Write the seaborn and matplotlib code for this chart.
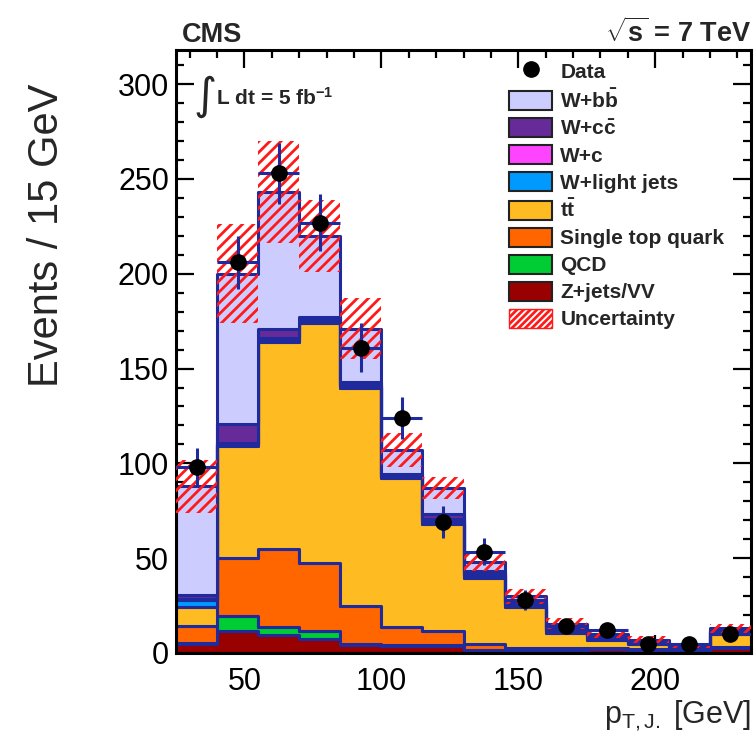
import numpy as np
import pandas as pd
import matplotlib
matplotlib.use("Agg")
import matplotlib.pyplot as plt
from matplotlib.patches import Patch
from matplotlib.lines import Line2D
from matplotlib.ticker import MultipleLocator
import seaborn as sns

# ---------------- data ----------------
bin_edges = [25, 40, 55, 70, 85, 100, 115, 130, 145, 160, 175, 190, 205, 220, 235]

z_jets_vv   = [4.6, 11.5, 9.5, 7.5, 4.0, 3.5, 3.5, 1.5, 0.8, 1.5, 2.0, 1.8, 1.5, 2.5]
qcd         = [0.5, 8.0, 4.0, 4.0, 1.0, 0.5, 0.5, 0.1, 0.1, 0.1, 0.1, 0.1, 0.0, 0.1]
single_top  = [8.9, 30.5, 41.5, 36.0, 20.0, 9.5, 7.5, 3.2, 1.9, 0.9, 0.6, 0.4, 0.3, 0.7]
ttbar       = [10.0, 59.0, 109.0, 126.5, 115.0, 79.0, 56.5, 34.7, 21.2, 8.0, 4.3, 2.2, 0.7, 6.7]
w_light     = [4.0, 1.0, 1.0, 1.0, 1.0, 0.5, 1.5, 1.5, 1.5, 1.0, 0.8, 0.7, 0.5, 1.0]
w_c         = [0.5, 1.0, 1.0, 0.5, 0.5, 0.5, 1.0, 0.5, 0.5, 0.5, 0.4, 0.3, 0.2, 0.5]
w_cc        = [2.0, 10.0, 5.0, 1.5, 1.5, 1.0, 3.0, 1.5, 1.5, 1.0, 0.8, 0.7, 0.4, 0.8]
w_bb        = [57.5, 79.0, 72.0, 43.0, 28.0, 12.5, 13.5, 5.0, 2.5, 2.5, 1.0, 0.8, 0.4, 0.7]

uncertainty = [14, 26, 27, 19, 16, 9, 6, 5, 4, 3, 2.2, 1.8, 1.3, 2.2]

data_values = [98, 206, 253, 227, 161, 124, 69, 53.5, 28, 14, 12, 4.6, 5, 10]
data_errors = [10, 14, 16, 15, 13, 11, 8.3, 7.3, 5.3, 3.7, 3.5, 2.2, 2.2, 3.2]

process_labels = ["W+b$\\mathbf{\\bar{b}}$", "W+c$\\mathbf{\\bar{c}}$", "W+c", "W+light jets",
                  "t$\\mathbf{\\bar{t}}$", "Single top quark", "QCD", "Z+jets/VV"]
process_values = [w_bb, w_cc, w_c, w_light, ttbar, single_top, qcd, z_jets_vv]
process_colors = ["#ccccff", "#662a99", "#ff44ff", "#0099ff",
                  "#ffbb22", "#ff6600", "#00cc33", "#990000"]

# ---------------- style ----------------
sns.set_style("ticks")
plt.rcParams["font.family"] = ["Liberation Sans", "DejaVu Sans"]
plt.rcParams["mathtext.fontset"] = "custom"
plt.rcParams["mathtext.rm"] = "Liberation Sans"
plt.rcParams["mathtext.bf"] = "Liberation Sans:bold"
plt.rcParams["mathtext.it"] = "Liberation Sans:italic"
plt.rcParams["hatch.linewidth"] = 2.0

navy = "#1f2a9c"

edges = np.array(bin_edges, dtype=float)
centers = 0.5 * (edges[:-1] + edges[1:])
width = np.diff(edges)

rows = []
for lab, vals in zip(process_labels, process_values):
    for c, v in zip(centers, vals):
        rows.append({"pt": float(c), "events": float(v), "process": lab})
df = pd.DataFrame(rows)

fig = plt.figure(figsize=(7.55, 7.41), dpi=100)
ax = fig.add_axes([176 / 755, 88 / 741, (751 - 176) / 755, (653 - 50) / 741])

sns.histplot(data=df, x="pt", weights="events", hue="process",
             hue_order=process_labels, palette=dict(zip(process_labels, process_colors)),
             bins=list(bin_edges), multiple="stack", element="step", fill=True, alpha=1,
             edgecolor=navy, linewidth=2.2, legend=False, ax=ax)

mc_total = np.sum(np.array(process_values, dtype=float), axis=0)
unc = np.array(uncertainty, dtype=float)
ax.bar(centers, 2 * unc, bottom=mc_total - unc, width=width, fill=False,
       hatch="///", edgecolor="#ff1a1a", linewidth=0, zorder=4)

ax.errorbar(centers, data_values, yerr=data_errors, xerr=width / 2, fmt="o",
            color="black", ecolor=navy, elinewidth=2.2, markersize=11,
            capsize=0, zorder=6)

# ---------------- axes ----------------
ax.set_xlim(25, 235)
ax.set_ylim(0, 318)
ax.xaxis.set_major_locator(MultipleLocator(50))
ax.xaxis.set_minor_locator(MultipleLocator(10))
ax.yaxis.set_major_locator(MultipleLocator(50))
ax.yaxis.set_minor_locator(MultipleLocator(10))
ax.tick_params(which="both", direction="in", top=True, right=True, width=1.6,
               labelsize=22, colors="black")
ax.tick_params(which="major", length=13)
ax.tick_params(which="minor", length=6)
ax.tick_params(axis="x", which="major", pad=10)
ax.tick_params(axis="y", which="major", pad=5)
for s in ax.spines.values():
    s.set_linewidth(2.2)
    s.set_color("black")

ax.set_xlabel("p$_{\\mathrm{T,J.}}$ [GeV]", fontsize=22, loc="right")
ax.xaxis.set_label_coords(1.0, -0.075)
ax.set_ylabel("Events / 15 GeV", fontsize=30, loc="top")
ax.yaxis.set_label_coords(-0.19, 0.945)

# ---------------- texts ----------------
fig.text(182 / 755, 1 - 42 / 741, "CMS", fontsize=19.5, fontweight="bold", ha="left", va="baseline")
fig.text(751 / 755, 1 - 42 / 741, "$\\mathbf{\\sqrt{s}}$ = 7 TeV", fontsize=19.5,
         fontweight="bold", ha="right", va="baseline")
fig.text(193 / 755, 1 - 96 / 741, "\u222b", fontsize=32, ha="left", va="center",
         family=["DejaVu Sans"])
fig.text(216 / 755, 1 - 105 / 741, "L dt = 5 fb$^{\\mathbf{-1}}$", fontsize=15,
         fontweight="bold", ha="left", va="baseline")

# ---------------- legend ----------------
handles = [Line2D([], [], marker="o", color="black", ls="none", markersize=11)]
labels = ["Data"]
for lab, col in zip(process_labels, process_colors):
    handles.append(Patch(facecolor=col, edgecolor="#222222", linewidth=1.5))
    labels.append(lab)
handles.append(Patch(facecolor="white", edgecolor="#ff1a1a", hatch="/////", linewidth=1.0))
labels.append("Uncertainty")

leg = ax.legend(handles, labels, loc="upper left",
                bbox_to_anchor=((509 - 176) / 575, (653 - 61) / 603),
                frameon=False, borderpad=0, borderaxespad=0,
                prop={"family": "Liberation Sans", "weight": "bold", "size": 15},
                handlelength=2.07, handleheight=1.05, handletextpad=0.4,
                labelspacing=0.3)

fig.savefig("out.png", dpi=100)
